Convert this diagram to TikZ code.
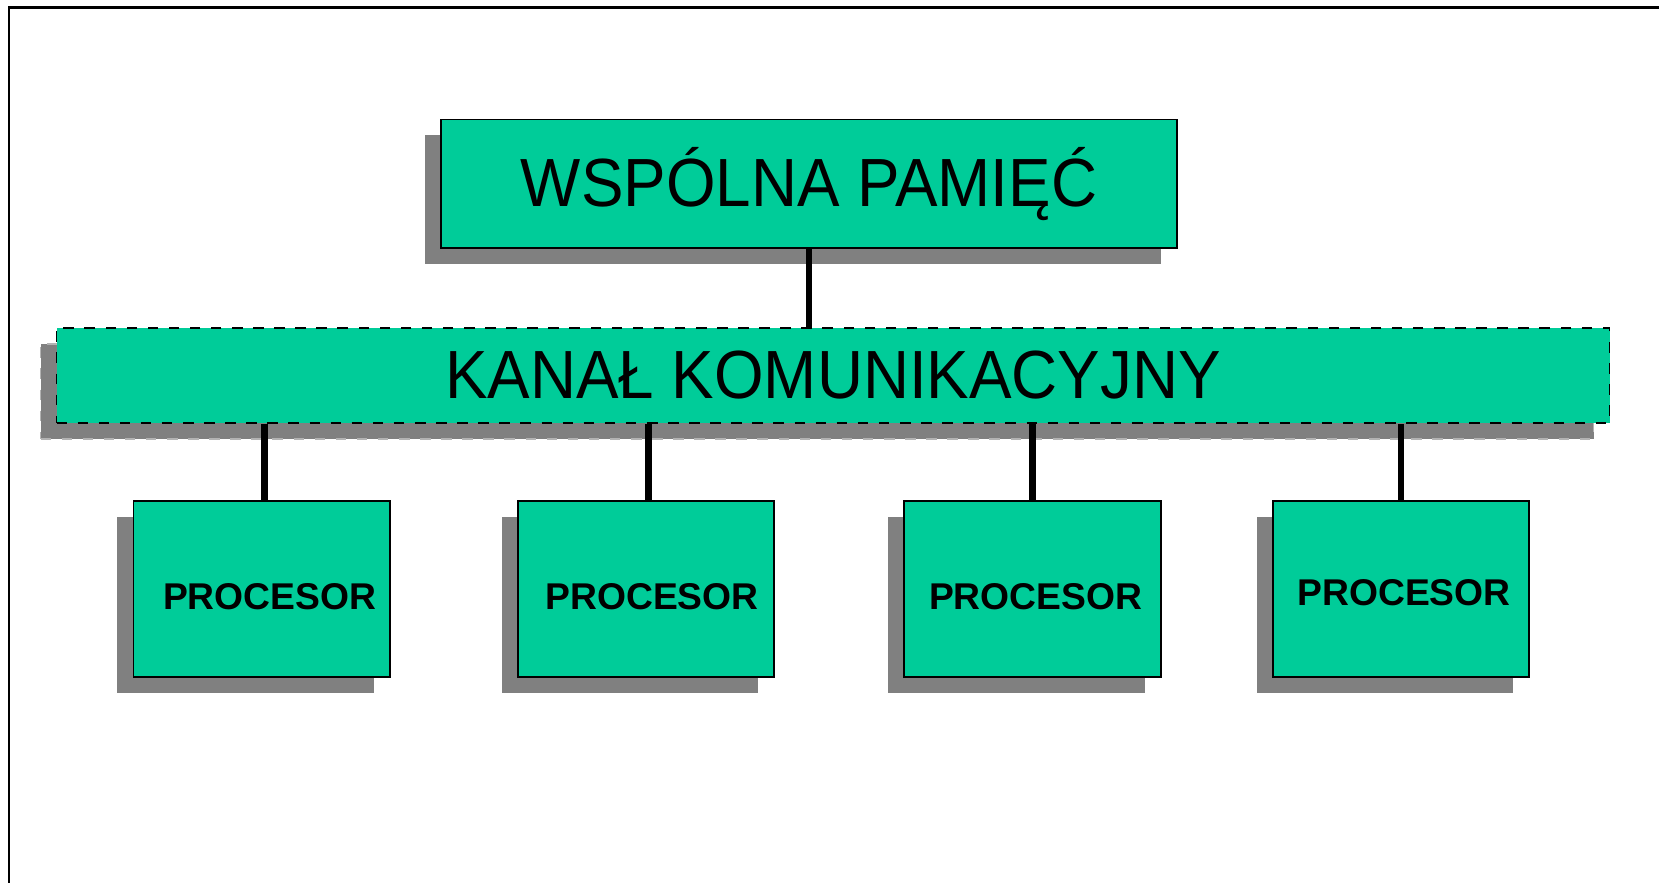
\documentclass[tikz,border=0pt]{standalone}
\usepackage{fontspec}
\setmainfont{Liberation Sans}
\newfontfamily\narrowsans[FakeStretch=0.935]{Liberation Sans}
\usepackage{xcolor}
\usepackage{tikz}
\usetikzlibrary{positioning,shadows}
\definecolor{boxgreen}{HTML}{00CC99}
\definecolor{shadowgray}{HTML}{808080}
\newcommand{\cpulabel}[2]{\hspace*{#1}\raisebox{#2}[\height][\depth]{PROCESOR}}

\begin{document}
\begin{tikzpicture}[
  unit/.style={draw, line width=0.5pt, fill=boxgreen, inner sep=0pt,
    drop shadow={shadow xshift=-1.6mm, shadow yshift=-1.6mm, fill=shadowgray, opacity=1}},
  memory/.style={unit, minimum width=7.36cm, minimum height=1.285cm,
    font=\narrowsans\fontsize{19.4pt}{22pt}\selectfont},
  bus/.style={draw, dashed, line width=0.5pt, fill=boxgreen, inner sep=0pt,
    minimum width=15.53cm, minimum height=0.956cm,
    font=\narrowsans\fontsize{19.4pt}{22pt}\selectfont,
    drop shadow={shadow xshift=-1.6mm, shadow yshift=-1.6mm, fill=shadowgray,
      draw=shadowgray!60, dashed, opacity=1}},
  cpu/.style={unit, minimum width=2.565cm, minimum height=1.757cm,
    font=\fontsize{10.6pt}{12pt}\selectfont\bfseries},
  wire/.style={line width=1.9pt}]
\useasboundingbox (0,0) rectangle (16.59,8.83);
% frame (only top and left edges show)
\draw[line width=0.8pt] (0.09,0) -- (0.09,8.757) -- (16.59,8.757);
% memory, bus and the four processors
\node[memory] (mem) at (8.09,6.993) {WSPÓLNA PAMIĘĆ};
\node[bus] (kanal) at (8.33,5.075) {KANAŁ KOMUNIKACYJNY};
\node[cpu] (p1) at (2.617,2.941) {\cpulabel{1.6mm}{-0.75mm}};
\node[cpu] (p2) at (6.46,2.941) {\cpulabel{1.2mm}{-0.75mm}};
\node[cpu] (p3) at (10.326,2.941) {\cpulabel{0.6mm}{-0.75mm}};
\node[cpu] (p4) at (14.01,2.941) {\cpulabel{0.6mm}{-0.4mm}};
% links
\draw[wire] (mem.south) -- (mem.south |- kanal.north);
\foreach \p/\dx in {p1/0.03,p2/0.026,p3/0.0,p4/0.0}
  \draw[wire] ([xshift=\dx cm]\p.north) -- ([xshift=\dx cm]\p.north |- kanal.south);
\end{tikzpicture}
\end{document}
